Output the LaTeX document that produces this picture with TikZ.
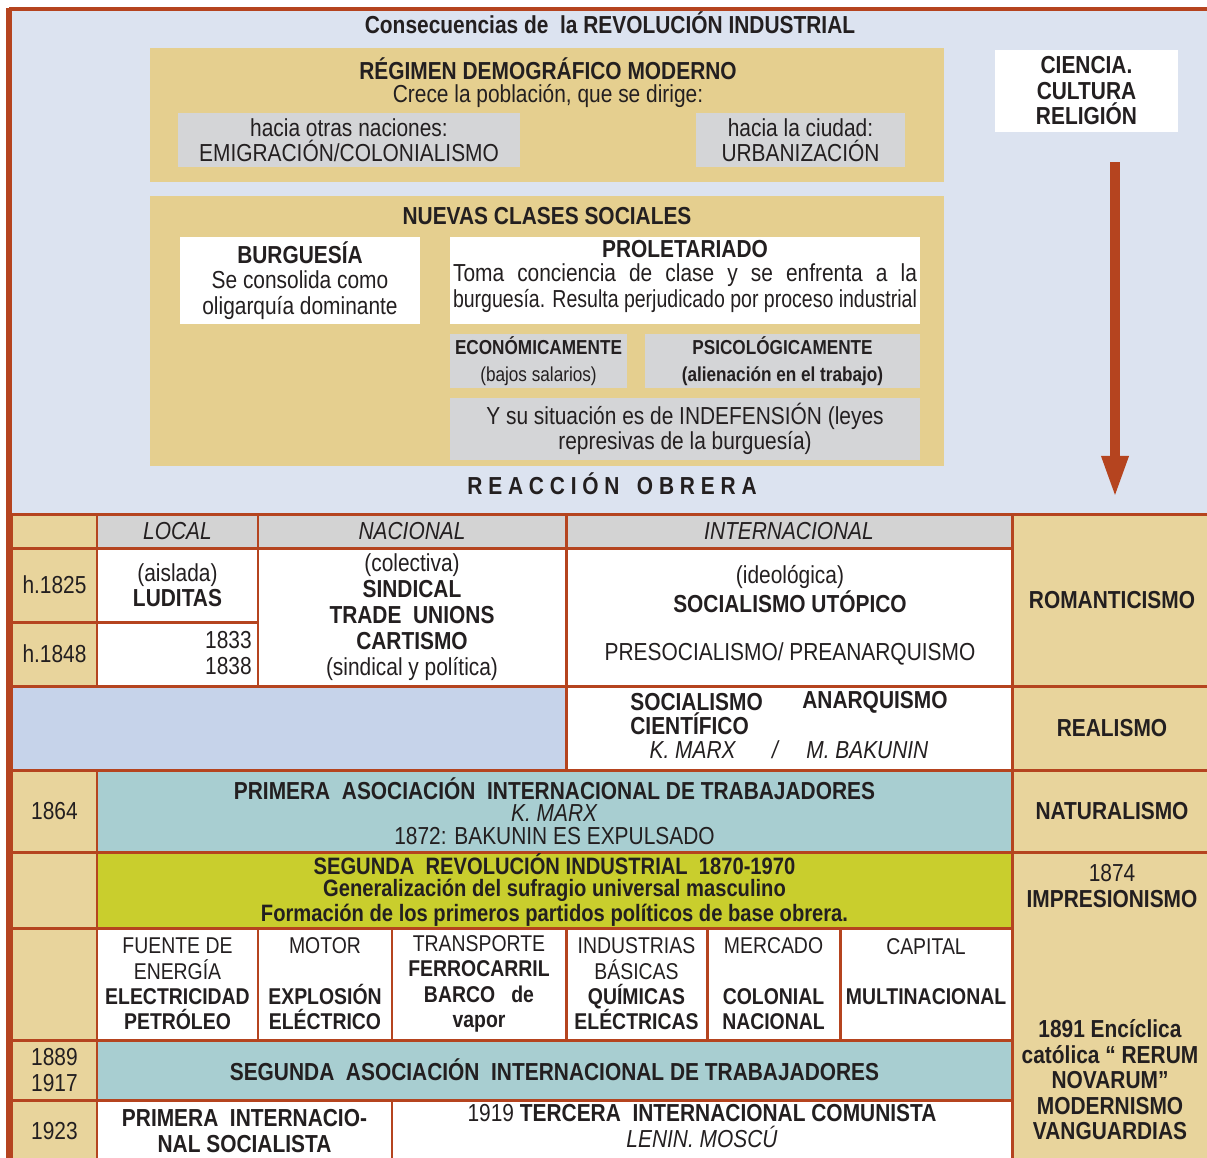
\documentclass[tikz,border=0pt]{standalone}
\usepackage{fontspec}
\setmainfont{Liberation Sans}[FakeStretch=0.85]
\usepackage{graphicx}
\usetikzlibrary{arrows.meta}
\definecolor{brd}{HTML}{B5441F}
\definecolor{sky}{HTML}{DCE3F0}
\definecolor{tanb}{HTML}{E5CF8F}
\definecolor{tanc}{HTML}{E8D49C}
\definecolor{greyb}{HTML}{D4D5D7}
\definecolor{greyc}{HTML}{D3D3D3}
\definecolor{lblue}{HTML}{C6D3EA}
\definecolor{teal}{HTML}{A8CED1}
\definecolor{ygreen}{HTML}{C9CE2D}
\definecolor{ink}{HTML}{231F20}
\newcommand{\fnorm}{\fontsize{14}{14.5}\selectfont}
\newcommand{\fsmall}{\fontsize{11.5}{15}\selectfont}
\newcommand{\fbot}{\fontsize{13}{14.4}\selectfont}
% cell: name, x1, y1, x2, y2, style, text (pixel coordinates)
\newcommand{\tcell}[7]{%
  \node[#6, minimum width={(#4-#2)*0.02cm}, minimum height={(#5-#3)*0.02cm}]
    (#1) at ({(#2+#4)/2},{(#3+#5)/2}) {#7};}
\tikzset{
  box/.style={inner sep=0pt, outer sep=0pt, text=ink, font=\fnorm, align=center},
  tanbox/.style={box, fill=tanb},
  greybox/.style={box, fill=greyb},
  whitebox/.style={box, fill=white},
  cell/.style={box, draw=brd, line width=1.7pt},
  tancell/.style={cell, fill=tanc},
  greycell/.style={cell, fill=greyc},
  whitecell/.style={cell, fill=white},
  bluecell/.style={cell, fill=lblue},
  tealcell/.style={cell, fill=teal},
  ycell/.style={cell, fill=ygreen},
  lab/.style={text=ink, font=\fnorm, align=center, inner sep=0pt},
  arr/.style={draw=brd, line width=5.7pt, -{Triangle[width=14pt,length=24pt]}},
  frame/.style={draw=brd, line width=2.3pt},
}
\begin{document}
\begin{tikzpicture}[x=0.02cm, y=-0.02cm]
  \useasboundingbox (0,0) rectangle (1207,1157);
  \fill[white] (0,0) rectangle (1207,1157);
  \fill[sky] (9,9) rectangle (1207,514);

  % upper part
  \node[lab] (title) at (610,23) {\textbf{Consecuencias de\ \ la REVOLUCIÓN INDUSTRIAL}};

  \tcell{reg}{150}{48}{944}{182}{tanbox}{}
  \node[lab] (reg-t) at (548,69) {\textbf{RÉGIMEN DEMOGRÁFICO MODERNO}};
  \node[lab] (reg-s) at (548,96) {Crece la población, que se dirige:};
  \tcell{emi}{178}{113}{520}{167}{greybox}{hacia otras naciones:\\EMIGRACIÓN/COLONIALISMO}
  \tcell{urb}{696}{113}{905}{167}{greybox}{hacia la ciudad:\\URBANIZACIÓN}

  \tcell{cie}{995}{50}{1178}{132}{whitebox}{\textbf{CIENCIA.}\\\textbf{CULTURA}\\\textbf{RELIGIÓN}}
  \coordinate (a1) at (1115,162);
  \coordinate (a2) at (1115,498);
  \draw[arr] (a1) -- (a2);

  \tcell{ncs}{150}{196}{944}{466}{tanbox}{}
  \node[lab] (ncs-t) at (547,216) {\textbf{NUEVAS CLASES SOCIALES}};
  \tcell{bur}{180}{237}{420}{324}{whitebox}{\textbf{BURGUESÍA}\\Se consolida como\\oligarquía dominante}
  \tcell{pro}{450}{237}{920}{324}{whitebox}{}
  \node[lab] (pro-t) at (685,249) {\textbf{PROLETARIADO}};
  \node[lab] (pro-s) at (685,288) {\makebox[9.28cm][s]{Toma conciencia de clase y se enfrenta a la}\\
    \resizebox{9.28cm}{\height}{burguesía. Resulta perjudicado por proceso industrial}};
  \tcell{eco}{450}{334}{627}{388}{greybox, font=\fsmall}{\textbf{ECONÓMICAMENTE}\\(bajos salarios)}
  \tcell{psi}{645}{334}{920}{388}{greybox, font=\fsmall}{\textbf{PSICOLÓGICAMENTE}\\\textbf{(alienación en el trabajo)}}
  \tcell{ind}{450}{398}{920}{460}{greybox}{Y su situación es de INDEFENSIÓN (leyes\\represivas de la burguesía)}
  \node[lab] (reac) at (612,484) {\textbf{R E A C C I Ó N \ \ O B R E R A}};

  % table: header
  \tcell{h0}{12}{514}{97}{548}{tancell}{}
  \tcell{hloc}{97}{514}{258}{548}{greycell}{\textit{LOCAL}}
  \tcell{hnac}{258}{514}{566}{548}{greycell}{\textit{NACIONAL}}
  \tcell{hint}{566}{514}{1012}{548}{greycell}{\textit{INTERNACIONAL}}
  % right column
  \tcell{rom}{1012}{514}{1212}{686}{tancell}{\textbf{ROMANTICISMO}}
  \tcell{rea}{1012}{686}{1212}{770}{tancell}{\textbf{REALISMO}}
  \tcell{nat}{1012}{770}{1212}{852}{tancell}{\textbf{NATURALISMO}}
  \tcell{imp}{1012}{852}{1212}{1162}{tancell}{}
  \node[lab] (imp-t) at (1112,886) {1874\\\textbf{IMPRESIONISMO}};
  \node[lab] (rer-t) at (1110,1080) {\textbf{1891 Encíclica}\\\textbf{católica “ RERUM}\\\textbf{NOVARUM”}\\\textbf{MODERNISMO}\\\textbf{VANGUARDIAS}};

  % h.1825 / h.1848
  \tcell{y25}{12}{548}{97}{622}{tancell}{h.1825}
  \tcell{lud}{97}{548}{258}{622}{whitecell}{(aislada)\\\textbf{LUDITAS}}
  \tcell{nac}{258}{548}{566}{686}{whitecell, font=\fontsize{14}{14.8}\selectfont}{(colectiva)\\\textbf{SINDICAL}\\\textbf{TRADE\ \ UNIONS}\\\textbf{CARTISMO}\\(sindical y política)}
  \tcell{int}{566}{548}{1012}{686}{whitecell}{}
  \node[lab] (int-t) at (790,589) {(ideológica)\\\textbf{SOCIALISMO UTÓPICO}};
  \node[lab] (int-s) at (790,654) {PRESOCIALISMO/ PREANARQUISMO};
  \tcell{y48}{12}{622}{97}{686}{tancell}{h.1848}
  \tcell{loc}{97}{622}{258}{686}{whitecell}{}
  \node[lab, align=right, anchor=east] (loc-t) at (252,653) {1833\\1838};

  % realismo row
  \tcell{blu}{12}{686}{566}{770}{bluecell}{}
  \tcell{cien}{566}{686}{1012}{770}{whitecell}{}
  \node[lab, anchor=west] (soc) at (630,702) {\textbf{SOCIALISMO}};
  \node[lab, anchor=west] (sci) at (630,724) {\textbf{CIENTÍFICO}};
  \node[lab, anchor=west] (ana) at (802,702) {\textbf{ANARQUISMO}};
  \node[lab] (mrx) at (693,750) {\textit{K. MARX}};
  \node[lab] (sl) at (776,750) {\textit{/}};
  \node[lab, anchor=west] (bak) at (806,750) {\textit{M. BAKUNIN}};

  % 1864
  \tcell{y64}{12}{770}{97}{852}{tancell}{1864}
  \tcell{ait}{97}{770}{1012}{852}{tealcell, font=\fontsize{14}{12.8}\selectfont}{\textbf{PRIMERA\ \ ASOCIACIÓN\ \ INTERNACIONAL DE TRABAJADORES}\\\textit{K. MARX}\\1872: BAKUNIN ES EXPULSADO}
  % segunda revolucion
  \tcell{y70}{12}{852}{97}{928}{tancell}{}
  \tcell{sri}{97}{852}{1012}{928}{ycell, font=\fontsize{13.5}{12.5}\selectfont}{\textbf{SEGUNDA\ \ REVOLUCIÓN INDUSTRIAL\ \ 1870-1970}\\\textbf{Generalización del sufragio universal masculino}\\\textbf{Formación de los primeros partidos políticos de base obrera.}}
  % fuentes, motor...
  \tcell{y00}{12}{928}{97}{1040}{tancell}{}
  \tcell{ene}{97}{928}{258}{1040}{whitecell, font=\fbot}{FUENTE DE\\ENERGÍA\\\textbf{ELECTRICIDAD}\\\textbf{PETRÓLEO}}
  \tcell{mot}{258}{928}{392}{1040}{whitecell, font=\fbot}{MOTOR\\\mbox{}\\\textbf{EXPLOSIÓN}\\\textbf{ELÉCTRICO}}
  \tcell{tra}{392}{928}{566}{1040}{whitecell, font=\fbot}{TRANSPORTE\\\textbf{FERROCARRIL}\\\textbf{BARCO\ \ \ de}\\\textbf{vapor}}
  \tcell{ibs}{566}{928}{707}{1040}{whitecell, font=\fbot}{INDUSTRIAS\\BÁSICAS\\\textbf{QUÍMICAS}\\\textbf{ELÉCTRICAS}}
  \tcell{mer}{707}{928}{840}{1040}{whitecell, font=\fbot}{MERCADO\\\mbox{}\\\textbf{COLONIAL}\\\textbf{NACIONAL}}
  \tcell{cap}{840}{928}{1012}{1040}{whitecell, font=\fbot}{CAPITAL\\\mbox{}\\\textbf{MULTINACIONAL}\\\mbox{}}
  % 1889
  \tcell{y89}{12}{1040}{97}{1100}{tancell}{1889\\1917}
  \tcell{sai}{97}{1040}{1012}{1100}{tealcell}{\textbf{SEGUNDA\ \ ASOCIACIÓN\ \ INTERNACIONAL DE TRABAJADORES}}
  % 1923
  \tcell{y23}{12}{1100}{97}{1162}{tancell}{1923}
  \tcell{pis}{97}{1100}{392}{1162}{whitecell}{\textbf{PRIMERA\ \ INTERNACIO-}\\\textbf{NAL SOCIALISTA}}
  \tcell{tic}{392}{1100}{1012}{1162}{whitecell}{}
  \node[lab] (tic-t) at (702,1126) {1919 \textbf{TERCERA\ \ INTERNACIONAL COMUNISTA}\\\textit{LENIN. MOSCÚ}};

  % outer frame
  \draw[frame] (9,9) -- (1210,9);
  \draw[frame, line width=3.4pt] (9,8) -- (9,1162);
\end{tikzpicture}
\end{document}
